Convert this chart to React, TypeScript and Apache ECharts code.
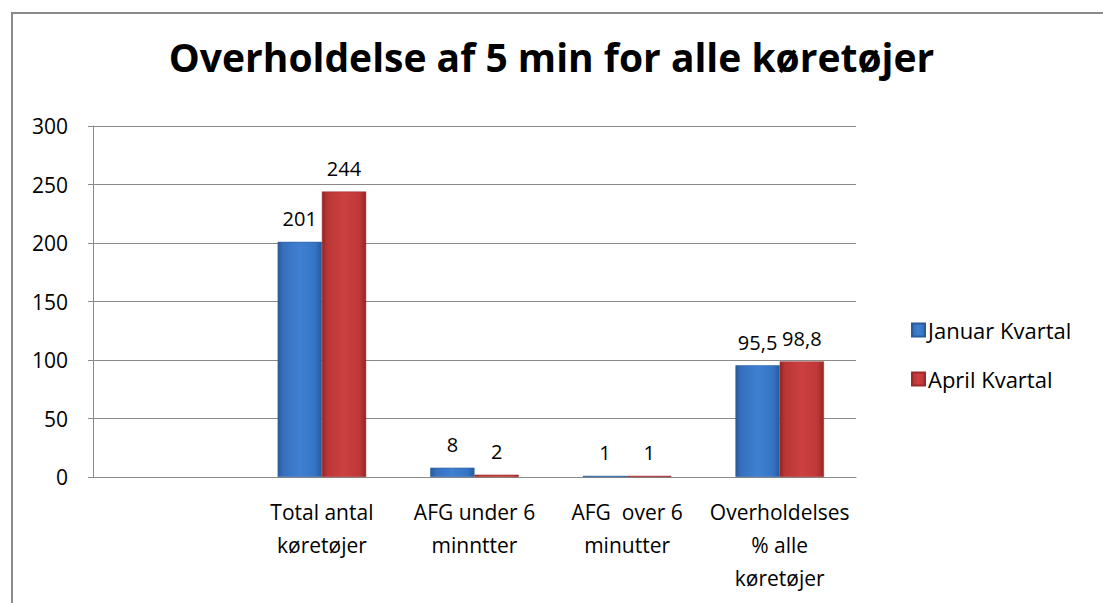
import React, { useEffect, useRef } from "react";
import * as echarts from "echarts";

const titleText = "Overholdelse af 5 min for alle køretøjer";
const categories = [
  "",
  "Total antal\nkøretøjer",
  "AFG under 6\nminntter",
  "AFG  over 6\nminutter",
  "Overholdelses\n% alle\nkøretøjer",
];
const seriesNames = ["Januar Kvartal", "April Kvartal"];
const januarValues: (number | string)[] = ["-", 201, 8, 1, 95.5];
const aprilValues: (number | string)[] = ["-", 244, 2, 1, 98.8];
const yMin = 0;
const yMax = 300;
const yInterval = 50;

const FONT = "'Open Sans', 'Noto Sans', sans-serif";

function grad(dark: string, mid: string, light: string, edge: string) {
  return new echarts.graphic.LinearGradient(0, 0, 1, 0, [
    { offset: 0, color: edge },
    { offset: 0.12, color: dark },
    { offset: 0.5, color: mid },
    { offset: 0.85, color: light },
    { offset: 1, color: edge },
  ]);
}

export default function App() {
  const ref = useRef<HTMLDivElement>(null);
  useEffect(() => {
    if (!ref.current) return;
    const chart = echarts.init(ref.current, undefined, { renderer: "svg" });
    const blue = grad("#3570bd", "#3f80d2", "#3574c4", "#275a9c");
    const red = grad("#bb3636", "#cc4040", "#bf3838", "#952626");
    const labelFmt = (p: any) => String(p.value).replace(".", ",");
    const labelStyle = {
      show: true,
      position: "top",
      distance: 13,
      formatter: labelFmt,
      fontFamily: FONT,
      fontSize: 20,
      color: "#000",
    };
    chart.setOption({
      animation: false,
      backgroundColor: "#ffffff",
      title: {
        text: titleText,
        left: "center",
        top: 32,
        textStyle: { fontFamily: FONT, fontWeight: "bold", fontSize: 39, color: "#000" },
      },
      graphic: [
        {
          type: "rect",
          shape: { x: 12, y: 13, width: 1200, height: 700 },
          style: { fill: "none", stroke: "#8a8a8a", lineWidth: 2 },
          silent: true,
        },
      ],
      legend: {
        orient: "vertical",
        left: 906,
        top: 314,
        itemWidth: 13,
        itemHeight: 13,
        itemGap: 27,
        icon: "rect",
        textStyle: { fontFamily: FONT, fontSize: 22, color: "#000", padding: [0, 0, 0, -2] },
        data: seriesNames,
      },
      grid: { left: 93, right: 247, top: 126, bottom: 126 },
      xAxis: {
        type: "category",
        data: categories,
        axisLine: { show: true, lineStyle: { color: "#8a8a8a", width: 1 } },
        axisTick: { show: false },
        axisLabel: {
          interval: 0,
          fontFamily: FONT,
          fontSize: 21,
          color: "#000",
          lineHeight: 33,
          margin: 18,
        },
      },
      yAxis: {
        type: "value",
        min: yMin,
        max: yMax,
        interval: yInterval,
        axisLine: { show: true, lineStyle: { color: "#8a8a8a", width: 1 } },
        axisTick: { show: true, length: 5, lineStyle: { color: "#8a8a8a" } },
        splitLine: { show: true, lineStyle: { color: "#8a8a8a", width: 1 } },
        axisLabel: { fontFamily: FONT, fontSize: 21, color: "#000", margin: 25 },
      },
      series: [
        {
          name: seriesNames[0],
          type: "bar",
          data: januarValues,
          barGap: "0%",
          barCategoryGap: "42%",
          itemStyle: { color: blue, borderColor: "#2a5a9a", borderWidth: 0.5 },
          label: labelStyle,
        },
        {
          name: seriesNames[1],
          type: "bar",
          data: aprilValues,
          barGap: "0%",
          barCategoryGap: "42%",
          itemStyle: { color: red, borderColor: "#9a2a2a", borderWidth: 0.5 },
          label: labelStyle,
        },
      ],
    });
    return () => chart.dispose();
  }, []);
  return (
    <div
      ref={ref}
      style={{ position: "fixed", left: 0, top: 0, width: 1103, height: 603 }}
    />
  );
}
